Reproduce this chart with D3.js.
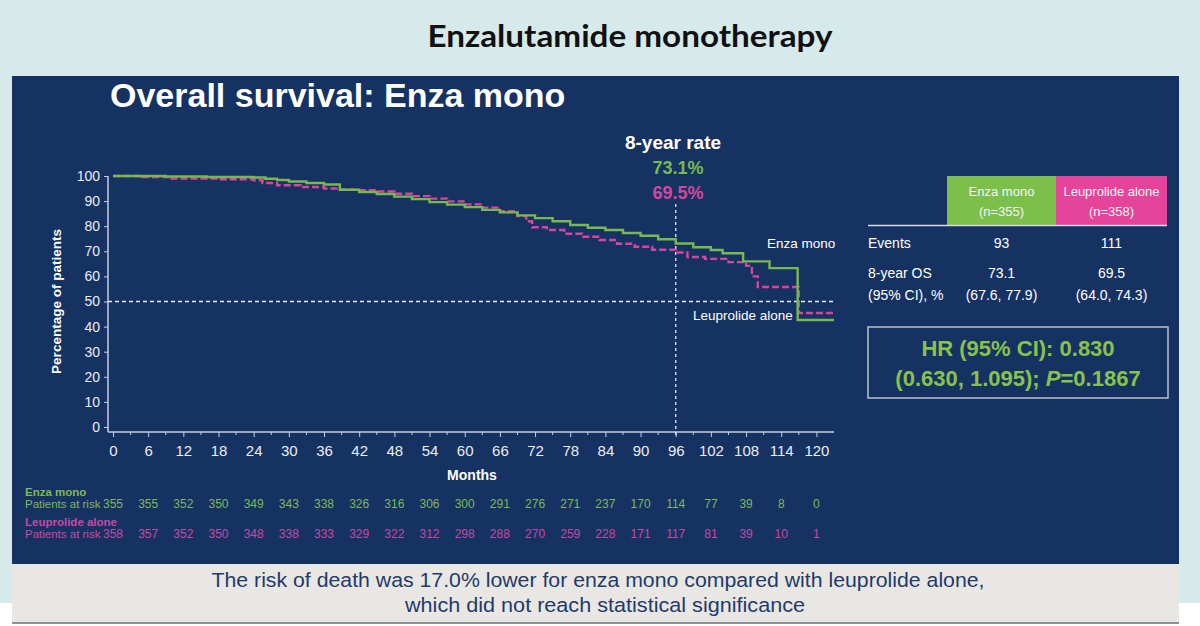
<!DOCTYPE html>
<html lang="en">
<head>
<meta charset="UTF-8">
<title>Overall survival: Enza mono</title>
<script src="https://d3js.org/d3.v7.min.js"></script>
<style>
body {margin: 0; background: #fff;}
svg {display: block;}
text {font-family: "Liberation Sans", Arial, sans-serif;}
.tick text {fill: #e9edf5; font-size: 14px;}
.tick line {stroke: #c5cede;}
</style>
</head>
<body>
<svg width="1200" height="626"></svg>
<script>
// tick labels / at-risk table
const months = [0,6,12,18,24,30,36,42,48,54,60,66,72,78,84,90,96,102,108,114,120];
const yTicks = [0,10,20,30,40,50,60,70,80,90,100];
const enzaAtRisk = [355,355,352,350,349,343,338,326,316,306,300,291,276,271,237,170,114,77,39,8,0];
const leuAtRisk = [358,357,352,350,348,338,333,329,322,312,298,288,270,259,228,171,117,81,39,10,1];

// KM curves (month, % alive)
const enzaTime = [0,9,16,24,26,28,30,33,36,38.7,42,45,48,51,54,57,60,63,66,69,72,75,78,81,84,87,90,93,96,99,102,104,107.5,112,116.8,123];
const enzaSurv = [100,99.8,99.6,99.4,98.9,98.4,97.8,97.2,96.6,94.5,93.6,92.8,91.8,90.8,89.6,88.6,87.6,86.5,85.5,84.3,83.2,82,80.5,79.4,78.5,77.3,76.2,74.8,73.1,71.6,70.5,69.2,66,63.3,42.6,42.6];
const leuTime = [0,5,10,18,24,25.5,28,32,36,38.7,42,45,48,51,54,57,60,63,66,69,70.5,71.5,74,77,80,83,86,89,92,96,98,101,105,108,109,110,117,123];
const leuSurv = [100,99.6,99.0,98.7,98.3,97.2,96.3,95.6,95,94.5,94.3,93.8,92.9,92.0,91.0,89.9,88.7,87.4,86.0,84.0,82,79.6,78.5,77,75.8,74.5,73,71.8,70.6,69.5,67.7,67,65.7,64.2,60,55.8,45.4,45.4];

const rate8y = ["73.1%", "69.5%"];
const events = ["93", "111"];
const os8 = ["73.1", "69.5"];
const os8ci = ["(67.6, 77.9)", "(64.0, 74.3)"];

const green = "#78b94f", pink = "#d5479f";

const svg = d3.select("svg");

// backgrounds
svg.append("rect").attr("width", 1200).attr("height", 603).attr("fill", "#d6eaeb");
svg.append("rect").attr("x", 12).attr("y", 76).attr("width", 1167).attr("height", 488).attr("fill", "#163262");
svg.append("rect").attr("x", 12).attr("y", 564).attr("width", 1167).attr("height", 59).attr("fill", "#e8e7e4");
svg.append("line").attr("x1", 12).attr("x2", 1179).attr("y1", 623).attr("y2", 623).attr("stroke", "#8a909c").attr("stroke-width", 2);

svg.append("text")
    .attr("x", 630).attr("y", 47)
    .attr("text-anchor", "middle")
    .attr("textLength", 405).attr("lengthAdjust", "spacingAndGlyphs")
    .style("font-family", "Lato, 'Open Sans', sans-serif")
    .style("font-weight", "bold").style("font-size", "31px")
    .attr("fill", "#111")
    .text("Enzalutamide monotherapy");

svg.append("text")
    .attr("x", 110).attr("y", 107)
    .style("font-weight", "bold").style("font-size", "34px")
    .attr("fill", "#fff")
    .text("Overall survival: Enza mono");

const xs = d3.scaleLinear().domain([0, 123]).range([113, 834]);
const ys = d3.scaleLinear().domain([0, 100]).range([427, 176]);
const axisY = 432;

// x axis
const xAxis = svg.append("g")
    .attr("transform", "translate(0," + axisY + ")")
    .call(d3.axisBottom(xs).tickValues(months).tickSize(5).tickSizeOuter(0).tickPadding(5));
xAxis.select(".domain").remove();
xAxis.selectAll(".tick text").attr("dy", "0.9em").style("font-size", "15px");
svg.append("g")
    .selectAll("line")
    .data(months.slice(0, -1).map(function(d) { return d + 3; }))
    .enter().append("line")
    .attr("x1", function(d) { return xs(d); }).attr("x2", function(d) { return xs(d); })
    .attr("y1", axisY).attr("y2", axisY + 3)
    .attr("stroke", "#c5cede");
svg.append("line")
    .attr("x1", xs(0) - 5).attr("x2", xs(123))
    .attr("y1", axisY).attr("y2", axisY)
    .attr("stroke", "#c5cede").attr("stroke-width", 1.5);

// y axis
const yAxis = svg.append("g")
    .attr("transform", "translate(108,0)")
    .call(d3.axisLeft(ys).tickValues(yTicks).tickSize(4).tickSizeOuter(0).tickPadding(4));
yAxis.select(".domain").remove();
svg.append("line")
    .attr("x1", 108).attr("x2", 108)
    .attr("y1", ys(100)).attr("y2", axisY)
    .attr("stroke", "#c5cede").attr("stroke-width", 1.5);

svg.append("text")
    .attr("transform", "translate(61," + ys(50) + ") rotate(-90)")
    .attr("text-anchor", "middle")
    .style("font-weight", "bold").style("font-size", "13.5px")
    .attr("fill", "#fff")
    .text("Percentage of patients");

svg.append("text")
    .attr("x", 472).attr("y", 480)
    .attr("text-anchor", "middle")
    .style("font-weight", "bold").style("font-size", "14px")
    .attr("fill", "#fff")
    .text("Months");

// reference lines
svg.append("line")
    .attr("x1", 108).attr("x2", xs(123))
    .attr("y1", ys(50)).attr("y2", ys(50))
    .attr("stroke", "#e6ebf3").attr("stroke-width", 1.3).attr("stroke-dasharray", "4,3");
svg.append("line")
    .attr("x1", xs(96)).attr("x2", xs(96))
    .attr("y1", 204).attr("y2", axisY + 4)
    .attr("stroke", "#e6ebf3").attr("stroke-width", 1.3).attr("stroke-dasharray", "3,3");

// KM curves
const line = d3.line()
    .x(function(d) { return xs(d[0]); })
    .y(function(d) { return ys(d[1]); })
    .curve(d3.curveStepAfter);

svg.append("path")
    .datum(leuTime.map(function(t, i) { return [t, leuSurv[i]]; }))
    .attr("d", line)
    .attr("fill", "none").attr("stroke", pink).attr("stroke-width", 2.4)
    .attr("stroke-dasharray", "7,3");

svg.append("path")
    .datum(enzaTime.map(function(t, i) { return [t, enzaSurv[i]]; }))
    .attr("d", line)
    .attr("fill", "none").attr("stroke", green).attr("stroke-width", 2.4);

svg.append("text").attr("x", 767).attr("y", 248)
    .style("font-size", "13.5px").attr("fill", "#fff").text("Enza mono");
svg.append("text").attr("x", 693).attr("y", 320)
    .style("font-size", "13.5px").attr("fill", "#fff").text("Leuprolide alone");

// 8-year rate
svg.append("text").attr("x", 673).attr("y", 149)
    .attr("text-anchor", "middle")
    .style("font-weight", "bold").style("font-size", "19px")
    .attr("fill", "#fff").text("8-year rate");
svg.append("g")
    .selectAll("text")
    .data(rate8y)
    .enter().append("text")
    .attr("x", 678)
    .attr("y", function(d, i) { return 174 + i * 25; })
    .attr("text-anchor", "middle")
    .style("font-weight", "bold").style("font-size", "18px")
    .attr("fill", function(d, i) { return i == 0 ? green : pink; })
    .text(function(d) { return d; });

// patients at risk
const riskRows = [
    {name: "Enza mono", vals: enzaAtRisk, color: "#7fb85a", y: 496},
    {name: "Leuprolide alone", vals: leuAtRisk, color: "#c54aa5", y: 526}
];
riskRows.forEach(function(r) {
    svg.append("text").attr("x", 25).attr("y", r.y)
        .style("font-weight", "bold").style("font-size", "11.5px")
        .attr("fill", r.color).text(r.name);
    svg.append("text").attr("x", 25).attr("y", r.y + 12)
        .style("font-size", "11.5px")
        .attr("fill", r.color).text("Patients at risk");
    svg.append("g")
        .selectAll("text")
        .data(r.vals)
        .enter().append("text")
        .attr("x", function(d, i) { return xs(months[i]); })
        .attr("y", r.y + 12)
        .attr("text-anchor", "middle")
        .style("font-size", "12px")
        .attr("fill", r.color)
        .text(function(d) { return d; });
});

// table on the right
const cols = [
    {head: "Enza mono", n: "(n=355)", fill: "#7cc04b", x: 947, w: 109},
    {head: "Leuprolide alone", n: "(n=358)", fill: "#e6449b", x: 1056, w: 111}
];
cols.forEach(function(c, i) {
    const cx = c.x + c.w / 2;
    svg.append("rect").attr("x", c.x).attr("y", 176).attr("width", c.w).attr("height", 49).attr("fill", c.fill);
    svg.append("text").attr("x", cx).attr("y", 196).attr("text-anchor", "middle")
        .style("font-size", "13px").attr("fill", "#f4f4f4").text(c.head);
    svg.append("text").attr("x", cx).attr("y", 216).attr("text-anchor", "middle")
        .style("font-size", "13px").attr("fill", "#f4f4f4").text(c.n);
    svg.append("text").attr("x", cx).attr("y", 248).attr("text-anchor", "middle")
        .style("font-size", "14px").attr("fill", "#fff").text(events[i]);
    svg.append("text").attr("x", cx).attr("y", 278).attr("text-anchor", "middle")
        .style("font-size", "14px").attr("fill", "#fff").text(os8[i]);
    svg.append("text").attr("x", cx).attr("y", 300).attr("text-anchor", "middle")
        .style("font-size", "14px").attr("fill", "#fff").text(os8ci[i]);
});
svg.append("line").attr("x1", 868).attr("x2", 1167).attr("y1", 225.5).attr("y2", 225.5)
    .attr("stroke", "#d6dce6").attr("stroke-width", 1.5);
svg.append("text").attr("x", 868).attr("y", 248).style("font-size", "14px").attr("fill", "#fff").text("Events");
svg.append("text").attr("x", 868).attr("y", 278).style("font-size", "14px").attr("fill", "#fff").text("8-year OS");
svg.append("text").attr("x", 868).attr("y", 300).style("font-size", "14px").attr("fill", "#fff").text("(95% CI), %");

// HR box
svg.append("rect").attr("x", 868).attr("y", 327).attr("width", 300).attr("height", 71)
    .attr("fill", "none").attr("stroke", "#b9c1cd").attr("stroke-width", 1.5);
svg.append("text").attr("x", 1018).attr("y", 356).attr("text-anchor", "middle")
    .style("font-weight", "bold").style("font-size", "22px").attr("fill", "#88c24c")
    .text("HR (95% CI): 0.830");
const hr2 = svg.append("text").attr("x", 1018).attr("y", 386).attr("text-anchor", "middle")
    .style("font-weight", "bold").style("font-size", "22px").attr("fill", "#88c24c");
hr2.append("tspan").text("(0.630, 1.095); ");
hr2.append("tspan").style("font-style", "italic").text("P");
hr2.append("tspan").text("=0.1867");

// bottom note
svg.append("text").attr("x", 598).attr("y", 587).attr("text-anchor", "middle")
    .attr("textLength", 773).attr("lengthAdjust", "spacingAndGlyphs")
    .style("font-size", "20.5px").attr("fill", "#1f3a6b")
    .text("The risk of death was 17.0% lower for enza mono compared with leuprolide alone,");
svg.append("text").attr("x", 605).attr("y", 612).attr("text-anchor", "middle")
    .attr("textLength", 400).attr("lengthAdjust", "spacingAndGlyphs")
    .style("font-size", "20.5px").attr("fill", "#1f3a6b")
    .text("which did not reach statistical significance");
</script>
</body>
</html>
